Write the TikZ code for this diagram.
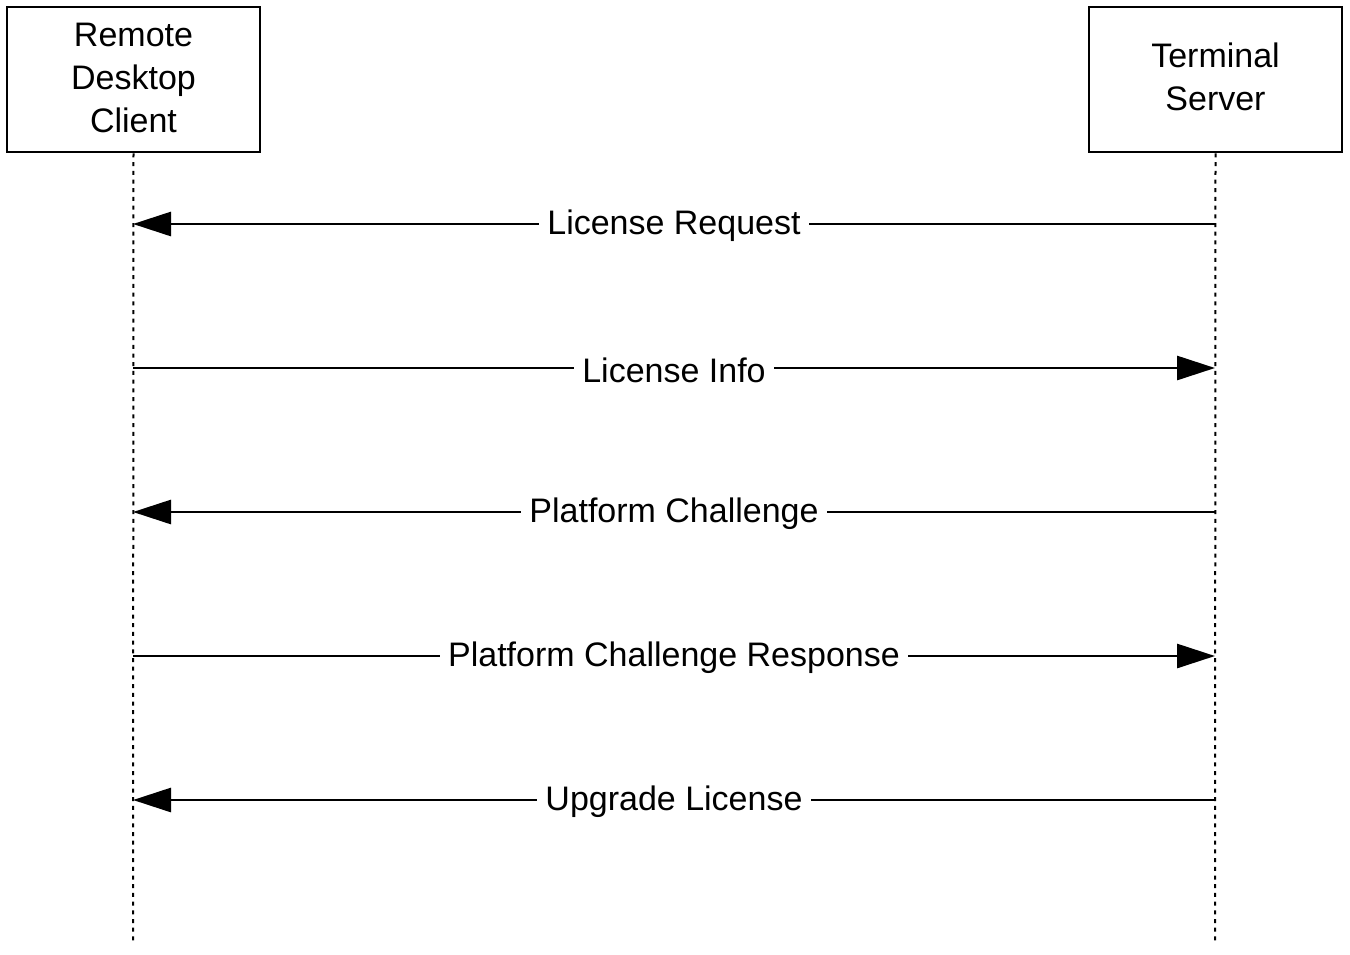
\documentclass[tikz,border=0pt]{standalone}
\usepackage{fontspec}
\setmainfont{Liberation Sans}
\usetikzlibrary{arrows.meta}
\begin{document}
\begin{tikzpicture}[x=0.5pt,y=-0.5pt,
  actor/.style={draw,line width=1.4pt,minimum width=126.5pt,minimum height=72.5pt,inner sep=0pt,align=center,font=\fontsize{17}{21.5}\selectfont},
  lifeline/.style={line width=1pt,dash pattern=on 2pt off 2.35pt},
  msg/.style={line width=1.4pt,-{Triangle[length=19pt,width=12pt]}},
  lbl/.style={fill=white,inner sep=4pt,yshift=-1pt,font=\fontsize{17}{20}\selectfont}]
\useasboundingbox (0,0) rectangle (1350,954);
\node[actor] (client) at (133.5,79.5) {};
\node[align=center,font=\fontsize{17}{21.5}\selectfont] (clientlbl) at (133.5,78) {Remote\\Desktop\\Client};
\node[actor] (server) at (1215.5,79.5) {};
\node[align=center,font=\fontsize{17}{21.5}\selectfont] (serverlbl) at (1215.5,77) {Terminal\\Server};
\coordinate (cend) at (133,942);
\coordinate (send) at (1215,942);
\draw[lifeline] (client.south) -- (cend);
\draw[lifeline] (server.south) -- (send);
\foreach \i/\y in {1/224,2/368,3/512,4/656,5/800}{
  \coordinate (c\i) at (133,\y);
  \coordinate (s\i) at (1215,\y);
}
\draw[msg] (s1) -- node[lbl]{License Request} (c1);
\draw[msg] (c2) -- node[lbl]{License Info} (s2);
\draw[msg] (s3) -- node[lbl]{Platform Challenge} (c3);
\draw[msg] (c4) -- node[lbl]{Platform Challenge Response} (s4);
\draw[msg] (s5) -- node[lbl]{Upgrade License} (c5);
\end{tikzpicture}
\end{document}
